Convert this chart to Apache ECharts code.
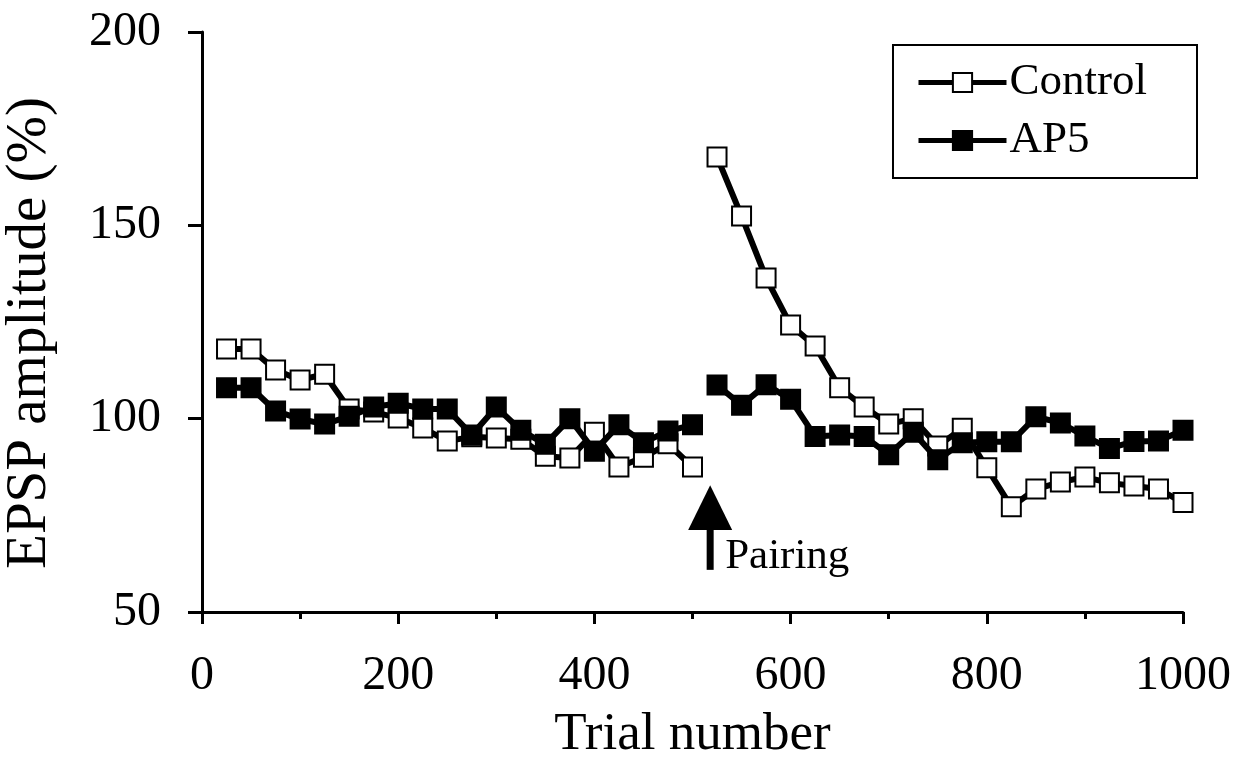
<!DOCTYPE html>
<html>
<head>
<meta charset="utf-8">
<script src="https://cdn.jsdelivr.net/npm/echarts@6/dist/echarts.min.js"></script>
<style>html,body{margin:0;padding:0;background:#fff}#c{width:1244px;height:761px}</style>
</head>
<body>
<div id="c"></div>
<script>
const preTrials = [25,50,75,100,125,150,175,200,225,250,275,300,325,350,375,400,425,450,475,500];
const postTrials = [525,550,575,600,625,650,675,700,725,750,775,800,825,850,875,900,925,950,975,1000];
const controlPre = [118,118,112.6,110,111.5,102.5,101.7,100.2,97.6,94.2,95.3,95,94.7,90.3,89.8,96.5,87.5,90,93.5,87.5];
const controlPost = [167.7,152.4,136.4,124.2,118.8,108,103,98.6,100,92.9,97.5,87.3,77.2,81.8,83.6,84.9,83.4,82.6,81.8,78.3];
const ap5Pre = [108,108,102,99.9,98.6,100.6,103,104,102.5,102.5,95.8,103,97,93.4,100,91.6,98.4,93.8,96.8,98.4];
const ap5Post = [108.7,103.5,108.8,105,95.4,95.8,95.4,90.7,96.5,89.4,93.8,94,94,100.5,98.9,95.5,92.3,94.1,94.2,97];
const xTicks = [0,200,400,600,800,1000];
const yTicks = [50,100,150,200];

const FONT = 'Liberation Serif';
const pairs = (xs, ys) => xs.map((x, i) => [x, ys[i]]);

function lineSeries(name, xs, ys, filled, z) {
  return {
    name: name, type: 'line', data: pairs(xs, ys), z: z,
    symbol: 'rect', symbolSize: 19, showSymbol: true,
    lineStyle: { color: '#000', width: 6 },
    itemStyle: { color: filled ? '#000' : '#fff', borderColor: '#000', borderWidth: 2, opacity: 1 },
    emphasis: { disabled: true }, animation: false
  };
}

const chart = echarts.init(document.getElementById('c'), null, { renderer: 'canvas' });
chart.setOption({
  backgroundColor: '#fff',
  animation: false,
  grid: { left: 202, right: 61, top: 32, bottom: 149, containLabel: false, outerBoundsMode: 'none' },
  legend: {
    right: 47, top: 45,
    orient: 'vertical',
    data: ['Control', 'AP5'],
    itemWidth: 88, itemHeight: 24, itemGap: 13,
    padding: [15, 50, 15, 23],
    borderColor: '#000', borderWidth: 2,
    lineStyle: { width: 5, color: '#000' },
    textStyle: { fontFamily: FONT, fontSize: 45, color: '#000', padding: [0, 0, 0, -2] },
    selectedMode: false
  },
  xAxis: {
    type: 'value', min: 0, max: 1000, interval: 200,
    name: 'Trial number', nameLocation: 'middle', nameGap: 97,
    nameTextStyle: { fontFamily: FONT, fontSize: 53, color: '#000' },
    axisLine: { lineStyle: { color: '#000', width: 3 } },
    axisTick: { inside: false, length: 12, lineStyle: { color: '#000', width: 3 } },
    minorTick: { show: true, splitNumber: 2, length: 7, lineStyle: { color: '#000', width: 3 } },
    axisLabel: { fontFamily: FONT, fontSize: 48, color: '#000', margin: 40,
      formatter: v => xTicks.includes(v) ? String(v) : '' },
    splitLine: { show: false }
  },
  yAxis: {
    type: 'value', min: 50, max: 200, interval: 50,
    name: 'EPSP amplitude (%)', nameLocation: 'middle', nameGap: 143,
    nameTextStyle: { fontFamily: FONT, fontSize: 57, color: '#000', padding: [0, 22, 0, 0] },
    axisLine: { show: true, lineStyle: { color: '#000', width: 3 } },
    axisTick: { show: true, length: 14, lineStyle: { color: '#000', width: 3 } },
    axisLabel: { fontFamily: FONT, fontSize: 48, color: '#000', margin: 41,
      formatter: v => yTicks.includes(v) ? String(v) : '' },
    splitLine: { show: false }
  },
  series: [
    lineSeries('Control', preTrials, controlPre, false, 2),
    lineSeries('Control', postTrials, controlPost, false, 2),
    lineSeries('AP5', preTrials, ap5Pre, true, 3),
    lineSeries('AP5', postTrials, ap5Post, true, 3)
  ]
});

// Pairing arrow annotation, positioned through the chart's scales
const arrowX = 518;
const tip = chart.convertToPixel({ gridIndex: 0 }, [arrowX, 82.8]);
const headBase = chart.convertToPixel({ gridIndex: 0 }, [arrowX, 71.2]);
const tail = chart.convertToPixel({ gridIndex: 0 }, [arrowX, 60.9]);
const half = 22;
chart.setOption({
  graphic: [
    { type: 'polygon', z: 10, shape: { points: [[tip[0], tip[1]], [tip[0] - half, headBase[1]], [tip[0] + half, headBase[1]]] },
      style: { fill: '#000' } },
    { type: 'rect', z: 10, shape: { x: tip[0] - 3.5, y: headBase[1] - 2, width: 7, height: tail[1] - headBase[1] + 2 },
      style: { fill: '#000' } },
    { type: 'text', z: 10, left: tip[0] + 15, top: tail[1] - 35,
      style: { text: 'Pairing', fontFamily: FONT, fontSize: 43, fill: '#000' } }
  ]
});
</script>
</body>
</html>
